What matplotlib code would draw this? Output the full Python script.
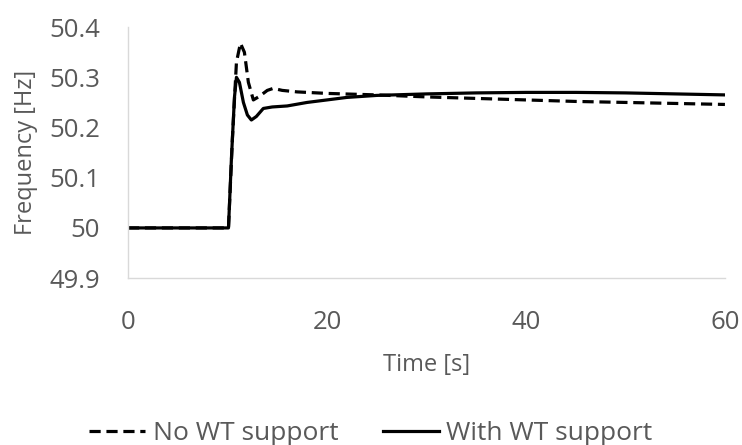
import matplotlib.pyplot as plt

# Data
t_no = [0, 10.1, 10.5, 10.9, 11.3, 11.7, 12.1, 12.6, 13.2, 14.0, 14.6, 15.5, 17,
        20, 25, 30, 35, 40, 45, 50, 55, 60]
f_no = [50, 50, 50.18, 50.33, 50.368, 50.35, 50.29, 50.255, 50.262, 50.274, 50.278,
        50.274, 50.271, 50.268, 50.265, 50.261, 50.258, 50.255, 50.252, 50.25, 50.248, 50.246]

t_with = [0, 10.1, 10.4, 10.7, 10.9, 11.2, 11.6, 12.0, 12.4, 12.9, 13.6, 14.5, 16, 18,
          20, 22, 25, 30, 35, 40, 45, 50, 55, 60]
f_with = [50, 50, 50.14, 50.26, 50.30, 50.29, 50.25, 50.225, 50.215, 50.222, 50.238,
          50.241, 50.243, 50.25, 50.255, 50.26, 50.264, 50.267, 50.269, 50.27, 50.27,
          50.269, 50.267, 50.265]

x_ticks = [0, 20, 40, 60]
y_ticks = [49.9, 50.0, 50.1, 50.2, 50.3, 50.4]
y_tick_labels = ['49.9', '50', '50.1', '50.2', '50.3', '50.4']

plt.rcParams['font.family'] = ['Open Sans', 'DejaVu Sans']
grey = '#595959'

fig = plt.figure(figsize=(7.42, 4.45), dpi=100)
ax = fig.add_axes([0.1725, 0.375, 0.8045, 0.564])

ax.plot(t_no, f_no, color='black', linewidth=2.3, dashes=(3.5, 1.8),
        label='No WT support')
ax.plot(t_with, f_with, color='black', linewidth=2.3, label='With WT support')

ax.set_xlim(0, 60)
ax.set_ylim(49.9, 50.4)
ax.set_xticks(x_ticks)
ax.set_yticks(y_ticks)
ax.set_yticklabels(y_tick_labels)
ax.tick_params(length=0, labelsize=18.5, labelcolor=grey)
ax.tick_params(axis='y', pad=20)
ax.tick_params(axis='x', pad=23)

for side in ['top', 'right']:
    ax.spines[side].set_visible(False)
for side in ['left', 'bottom']:
    ax.spines[side].set_color('#d9d9d9')
    ax.spines[side].set_linewidth(1)

ax.set_xlabel('Time [s]', fontsize=17, color=grey, labelpad=13)
ax.set_ylabel('Frequency [Hz]', fontsize=17, color=grey, labelpad=8)

fig.legend(loc='center', bbox_to_anchor=(0.5, 0.026), ncol=2, frameon=False,
           fontsize=19, labelcolor=grey, handlelength=2.1, handletextpad=0.3,
           columnspacing=1.7)

fig.savefig('out.png', dpi=100)
